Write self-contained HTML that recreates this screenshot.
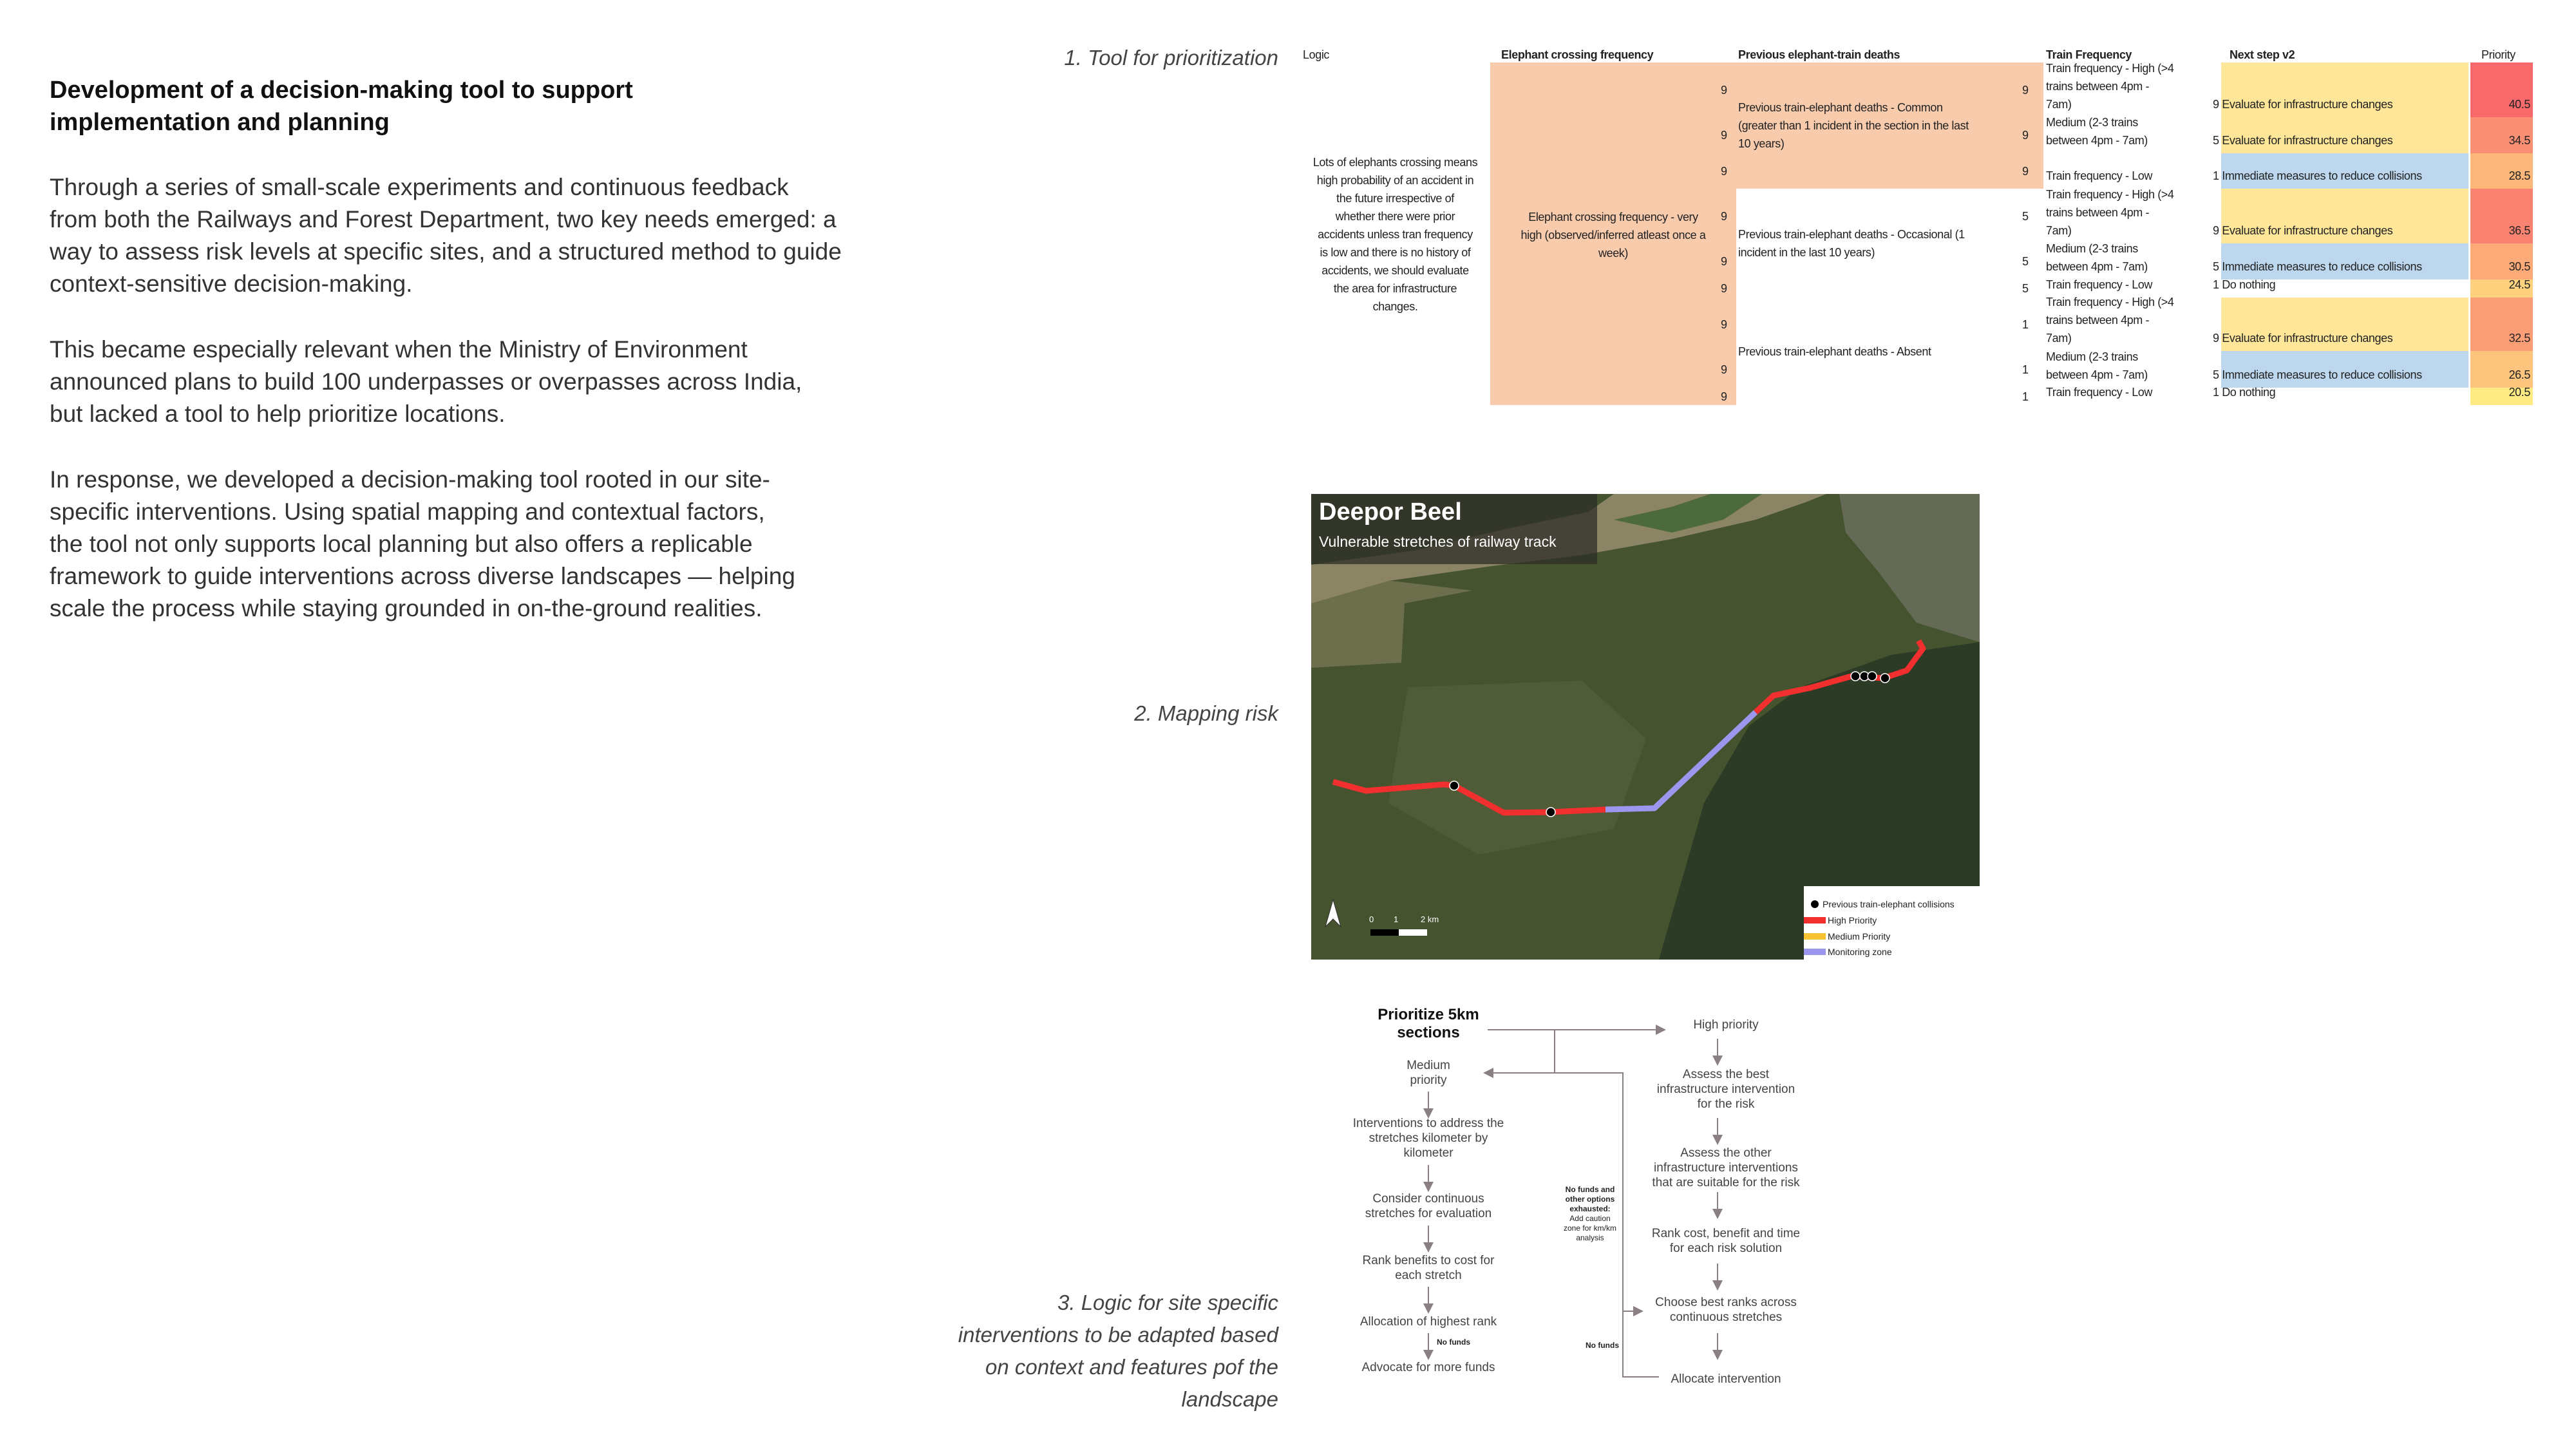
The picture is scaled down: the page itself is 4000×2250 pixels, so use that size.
<!DOCTYPE html>
<html><head><meta charset="utf-8">
<style>
body{margin:0;background:#fff;}
#page{position:relative;width:4000px;height:2250px;overflow:hidden;font-family:"Liberation Sans",sans-serif;color:#222;}
.abs{position:absolute;}
.lbl{position:absolute;right:2015px;font-style:italic;font-size:33px;color:#444;text-align:right;line-height:50px;white-space:nowrap;}
.tb{position:absolute;font-size:18px;line-height:28px;letter-spacing:-0.4px;white-space:nowrap;color:#222;}
.fc{position:absolute;font-size:19px;line-height:23px;color:#444;text-align:center;white-space:nowrap;transform:translateX(-50%);}
</style></head>
<body>
<div id="page">
  <div class="abs" style="left:77px;top:115px;font-size:38px;font-weight:bold;line-height:50px;color:#111;">Development of a decision-making tool to support<br>implementation and planning</div>
  <div class="abs" style="left:77px;top:266px;font-size:37px;line-height:50px;color:#333;white-space:nowrap;">Through a series of small-scale experiments and continuous feedback<br>from both the Railways and Forest Department, two key needs emerged: a<br>way to assess risk levels at specific sites, and a structured method to guide<br>context-sensitive decision-making.</div>
  <div class="abs" style="left:77px;top:518px;font-size:37px;line-height:50px;color:#333;white-space:nowrap;">This became especially relevant when the Ministry of Environment<br>announced plans to build 100 underpasses or overpasses across India,<br>but lacked a tool to help prioritize locations.</div>
  <div class="abs" style="left:77px;top:720px;font-size:37px;line-height:50px;color:#333;white-space:nowrap;">In response, we developed a decision-making tool rooted in our site-<br>specific interventions. Using spatial mapping and contextual factors,<br>the tool not only supports local planning but also offers a replicable<br>framework to guide interventions across diverse landscapes — helping<br>scale the process while staying grounded in on-the-ground realities.</div>

  <div class="lbl" style="top:65px;">1. Tool for prioritization</div>
  <div class="lbl" style="top:1083px;">2. Mapping risk</div>
  <div class="lbl" style="top:1998px;">3. Logic for site specific<br>interventions to be adapted based<br>on context and features pof the<br>landscape</div>

  <div id="table" class="abs" style="left:0;top:0;"></div>

  <svg class="abs" style="left:2036px;top:767px;" width="1038" height="723" viewBox="0 0 1038 723">
    <rect width="1038" height="723" fill="#45532f"/>
    <polygon points="0,120 0,270 140,262 145,170 250,150" fill="#6d6f4c"/>
    <polygon points="0,170 120,135 280,112 420,95 560,70 690,40 770,12 800,0 470,0 430,28 300,55 160,88 0,110" fill="#8c8565"/>
    <polygon points="470,40 560,20 620,0 700,0 640,40 560,60" fill="#4d6a3c"/>
    <polygon points="820,0 1038,0 1038,230 940,200 880,120 830,60" fill="#646a55"/>
    <polygon points="1038,230 900,250 760,300 680,360 610,480 540,723 1038,723" fill="#2c3b25"/>
    <polygon points="150,300 420,290 520,380 470,520 260,560 120,480" fill="#55613a" opacity="0.7"/>
    <rect x="0" y="0" width="444" height="109" fill="#2d2d28" opacity="0.75"/>
    <text x="12" y="40" fill="#fff" font-size="38" font-weight="bold" font-family="Liberation Sans, sans-serif">Deepor Beel</text>
    <text x="12" y="82" fill="#fff" font-size="23" font-family="Liberation Sans, sans-serif">Vulnerable stretches of railway track</text>
    <g fill="none" stroke-width="9" stroke-linejoin="round" stroke-linecap="butt">
      <polyline points="34,447 85,461 206,451 222,453 299,495 372,494 457,490" stroke="#f22f2f"/>
      <polyline points="457,490 533,488 690,339" stroke="#9b97ef"/>
      <polyline points="690,339 718,313 775,301 839,283 889,286 925,274 950,240 943,228" stroke="#f22f2f"/>
    </g>
    <g fill="#000" stroke="#fff" stroke-width="1.5">
      <circle cx="222" cy="453" r="7"/>
      <circle cx="372" cy="494" r="7"/>
      <circle cx="845" cy="283" r="7"/>
      <circle cx="859" cy="283" r="7"/>
      <circle cx="871" cy="283" r="7"/>
      <circle cx="891" cy="286" r="7"/>
    </g>
    <polygon points="34,630 22,672 34,660 46,672" fill="#fff" stroke="#333"/>
    <text x="90" y="665" fill="#fff" font-size="13" font-family="Liberation Sans, sans-serif">0</text>
    <text x="128" y="665" fill="#fff" font-size="13" font-family="Liberation Sans, sans-serif">1</text>
    <text x="170" y="665" fill="#fff" font-size="13" font-family="Liberation Sans, sans-serif">2 km</text>
    <rect x="92" y="676" width="44" height="10" fill="#000"/>
    <rect x="136" y="676" width="44" height="10" fill="#fff"/>
    <g>
      <rect x="765" y="609" width="273" height="114" fill="#fff"/>
      <circle cx="782" cy="637" r="6" fill="#000"/>
      <text x="794" y="642" font-size="14" fill="#222" font-family="Liberation Sans, sans-serif">Previous train-elephant collisions</text>
      <rect x="765" y="657" width="34" height="10" fill="#f22f2f"/>
      <text x="802" y="667" font-size="14" fill="#222" font-family="Liberation Sans, sans-serif">High Priority</text>
      <rect x="765" y="682" width="34" height="10" fill="#f7c234"/>
      <text x="802" y="692" font-size="14" fill="#222" font-family="Liberation Sans, sans-serif">Medium Priority</text>
      <rect x="765" y="706" width="34" height="10" fill="#9b97ef"/>
      <text x="802" y="716" font-size="14" fill="#222" font-family="Liberation Sans, sans-serif">Monitoring zone</text>
    </g>
  </svg>

  <svg class="abs" style="left:0;top:0;" width="4000" height="2250">
    <defs><marker id="ah" markerWidth="8" markerHeight="8" refX="7" refY="4" orient="auto" markerUnits="userSpaceOnUse"><path d="M0,0 L8,4 L0,8 z" fill="#8a8083"/></marker>
    <marker id="ah2" markerWidth="16" markerHeight="16" refX="14" refY="8" orient="auto" markerUnits="userSpaceOnUse"><path d="M0,0 L16,8 L0,16 z" fill="#8a8083"/></marker></defs>
    <g stroke="#8a8083" stroke-width="2" fill="none" marker-end="url(#ah2)">
      <line x1="2310" y1="1599" x2="2585" y2="1599"/>
      <polyline points="2414,1599 2414,1666 2305,1666"/>
      <polyline points="2414,1666 2520,1666 2520,2036 2550,2036"/>
      <line x1="2218" y1="1695" x2="2218" y2="1735"/>
      <line x1="2218" y1="1809" x2="2218" y2="1849"/>
      <line x1="2218" y1="1903" x2="2218" y2="1943"/>
      <line x1="2218" y1="1998" x2="2218" y2="2038"/>
      <line x1="2218" y1="2070" x2="2218" y2="2110"/>
      <line x1="2667" y1="1613" x2="2667" y2="1653"/>
      <line x1="2667" y1="1736" x2="2667" y2="1776"/>
      <line x1="2667" y1="1851" x2="2667" y2="1891"/>
      <line x1="2667" y1="1962" x2="2667" y2="2002"/>
      <line x1="2667" y1="2070" x2="2667" y2="2110"/>
    </g>
    <polyline points="2520,2036 2520,2138 2576,2138" stroke="#8a8083" stroke-width="2" fill="none"/>
  </svg>
  <div class="fc" style="left:2218px;top:1562px;font-size:24px;line-height:28px;font-weight:bold;color:#111;">Prioritize 5km<br>sections</div>
  <div class="fc" style="left:2218px;top:1643px;">Medium<br>priority</div>
  <div class="fc" style="left:2218px;top:1733px;">Interventions to address the<br>stretches kilometer by<br>kilometer</div>
  <div class="fc" style="left:2218px;top:1850px;">Consider continuous<br>stretches for evaluation</div>
  <div class="fc" style="left:2218px;top:1946px;">Rank benefits to cost for<br>each stretch</div>
  <div class="fc" style="left:2218px;top:2041px;">Allocation of highest rank</div>
  <div class="fc" style="left:2218px;top:2112px;">Advocate for more funds</div>
  <div class="fc" style="left:2257px;top:2077px;font-size:12px;line-height:14px;font-weight:bold;color:#222;">No funds</div>
  <div class="fc" style="left:2680px;top:1580px;">High priority</div>
  <div class="fc" style="left:2680px;top:1657px;">Assess the best<br>infrastructure intervention<br>for the risk</div>
  <div class="fc" style="left:2680px;top:1779px;">Assess the other<br>infrastructure interventions<br>that are suitable for the risk</div>
  <div class="fc" style="left:2680px;top:1904px;">Rank cost, benefit and time<br>for each risk solution</div>
  <div class="fc" style="left:2680px;top:2011px;">Choose best ranks across<br>continuous stretches</div>
  <div class="fc" style="left:2680px;top:2130px;">Allocate intervention</div>
  <div class="fc" style="left:2469px;top:1840px;font-size:12px;line-height:15px;color:#222;"><b>No funds and<br>other options<br>exhausted:</b><br>Add caution<br>zone for km/km<br>analysis</div>
  <div class="fc" style="left:2488px;top:2082px;font-size:12px;line-height:14px;font-weight:bold;color:#222;">No funds</div>
</div>
<script>
const trainFreqScores = [9,5,1,9,5,1,9,5,1];
const deathScores = [9,9,9,5,5,5,1,1,1];
const crossingScores = [9,9,9,9,9,9,9,9,9];
const nextSteps = ["Evaluate for infrastructure changes","Evaluate for infrastructure changes","Immediate measures to reduce collisions","Evaluate for infrastructure changes","Immediate measures to reduce collisions","Do nothing","Evaluate for infrastructure changes","Immediate measures to reduce collisions","Do nothing"];
const priorities = [40.5,34.5,28.5,36.5,30.5,24.5,32.5,26.5,20.5];
const trainFreqLabels = ["Train frequency - High (>4<br>trains between 4pm -<br>7am)","Medium (2-3 trains<br>between 4pm - 7am)","Train frequency - Low"];
const deathLabels = ["Previous train-elephant deaths - Common<br>(greater than 1 incident in the section in the last<br>10 years)","Previous train-elephant deaths - Occasional (1<br>incident in the last 10 years)","Previous train-elephant deaths - Absent"];

const T = document.getElementById('table');
const rowB = [97,182,238,293,378,434,462,545,602,629];
function add(html, css, name){
  const d = document.createElement('div');
  d.className = 'tb';
  d.innerHTML = html;
  d.style.cssText = css;
  
  
  T.appendChild(d);
  return d;
}
function box(x,y,w,h,color,name){
  const d = document.createElement('div');
  d.style.cssText = `position:absolute;left:${x}px;top:${y}px;width:${w}px;height:${h}px;background:${color};`;
  
  
  T.appendChild(d);
}
function prioColor(v){
  const lo = Math.min(...priorities), hi = Math.max(...priorities);
  const t = (v-lo)/(hi-lo);
  const a=[255,235,132], b=[248,105,107];
  return `rgb(${a.map((c,i)=>Math.round(c+(b[i]-c)*t)).join(',')})`;
}
function stepColor(s){ return s.startsWith('Evaluate') ? '#ffe699' : s.startsWith('Immediate') ? '#bdd7ee' : '#ffffff'; }
// headers
const hdr = [["Logic",2023,false],["Elephant crossing frequency",2331,true],["Previous elephant-train deaths",2699,true],["Train Frequency",3177,true],["Next step v2",3462,true],["Priority",3853,false]];
hdr.forEach(h=>add(h[0], `left:${h[1]}px;top:71px;${h[2]?'font-weight:bold;':''}`, 'header-'+h[0].toLowerCase().replace(/[^a-z0-9]+/g,'-')));
// fills
box(2314,97,382,532,'#f8cbad','crossing-fill');
box(2696,97,477,196,'#f8cbad','deaths-common-fill');
for(let i=0;i<9;i++){
  const top=rowB[i], h=rowB[i+1]-rowB[i], mid=top+h/2;
  box(3449,top,384,h,stepColor(nextSteps[i]),'next-step-fill');
  box(3836,top,97,h,prioColor(priorities[i]),'priority-cell');
  add(String(crossingScores[i]), `left:2672px;top:${mid-14}px;`, 'crossing-score');
  add(String(deathScores[i]), `left:3140px;top:${mid-14}px;`, 'death-score');
  const tl = trainFreqLabels[i%3], lines = tl.split('<br>').length;
  add(tl, `left:3177px;top:${top+h-6-lines*28}px;`, 'train-frequency-label');
  add(trainFreqScores[i]+' '+nextSteps[i], `left:3436px;top:${top+h-34}px;`, 'next-step');
  add(priorities[i].toFixed(1), `left:3836px;width:93px;text-align:right;top:${top+h-34}px;`, 'priority-value');
}
for(let g=0;g<3;g++){
  const top=rowB[g*3], bot=rowB[g*3+3], lines=deathLabels[g].split('<br>').length;
  add(deathLabels[g], `left:2699px;top:${(top+bot)/2-lines*14}px;`, 'death-category');
}
add("Elephant crossing frequency - very<br>high (observed/inferred atleast once a<br>week)", "left:2314px;width:382px;text-align:center;top:323px;", 'crossing-category');
add("Lots of elephants crossing means<br>high probability of an accident in<br>the future irrespective of<br>whether there were prior<br>accidents unless tran frequency<br>is  low and there is no history of<br>accidents, we should evaluate<br>the area for infrastructure<br>changes.", "left:2023px;width:287px;text-align:center;top:238px;", 'logic-text');
</script>
</body></html>
